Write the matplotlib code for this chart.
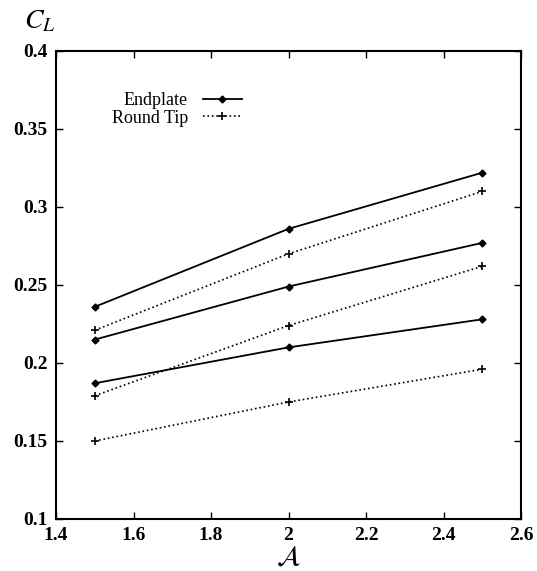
import matplotlib
matplotlib.use("Agg")
import matplotlib.pyplot as plt

plt.rcParams['font.family'] = ['Liberation Serif', 'DejaVu Serif']
plt.rcParams['mathtext.fontset'] = 'stix'

aspect = [1.5, 2.0, 2.5]
endplate = [
    [0.236, 0.286, 0.322],
    [0.215, 0.249, 0.277],
    [0.187, 0.210, 0.228],
]
roundtip = [
    [0.221, 0.270, 0.310],
    [0.179, 0.224, 0.262],
    [0.150, 0.175, 0.196],
]
xticks = [1.4, 1.6, 1.8, 2.0, 2.2, 2.4, 2.6]
xticklabels = ['1.4', '1.6', '1.8', '2', '2.2', '2.4', '2.6']
yticks = [0.1, 0.15, 0.2, 0.25, 0.3, 0.35, 0.4]
yticklabels = ['0.1', '0.15', '0.2', '0.25', '0.3', '0.35', '0.4']

fig = plt.figure(figsize=(5.37, 5.71), dpi=100)
ax = fig.add_axes([0.1043, 0.0911, 0.866, 0.8196])

for i, ys in enumerate(endplate):
    ax.plot(aspect, ys, '-', color='black', lw=1.3, marker='D', ms=3.5,
            label='Endplate' if i == 0 else None)
for i, ys in enumerate(roundtip):
    ax.plot(aspect, ys, ':', color='black', lw=1.2, marker='+', ms=6, mew=1.2,
            label='Round Tip' if i == 0 else None)

ax.set_xlim(1.4, 2.6)
ax.set_ylim(0.1, 0.4)
ax.set_xticks(xticks)
ax.set_xticklabels(xticklabels)
ax.set_yticks(yticks)
ax.set_yticklabels(yticklabels)
ax.tick_params(direction='in', top=True, right=True, length=5, width=1,
               labelsize=14, pad=6)
for lbl in ax.get_xticklabels() + ax.get_yticklabels():
    lbl.set_fontweight('bold')
for s in ax.spines.values():
    s.set_linewidth(1.5)

ax.set_xlabel(r'$\mathcal{A}$', fontsize=20, labelpad=1)
ax.set_ylabel(r'$C_L$', fontsize=20, rotation=0)
ax.yaxis.set_label_coords(-0.035, 1.035)

leg = ax.legend(loc='upper right', bbox_to_anchor=(0.42, 0.932), frameon=False,
                markerfirst=False, fontsize=13, handlelength=2.2,
                handletextpad=0.8, labelspacing=0.05, borderpad=0)

fig.savefig('out.png', dpi=100)
